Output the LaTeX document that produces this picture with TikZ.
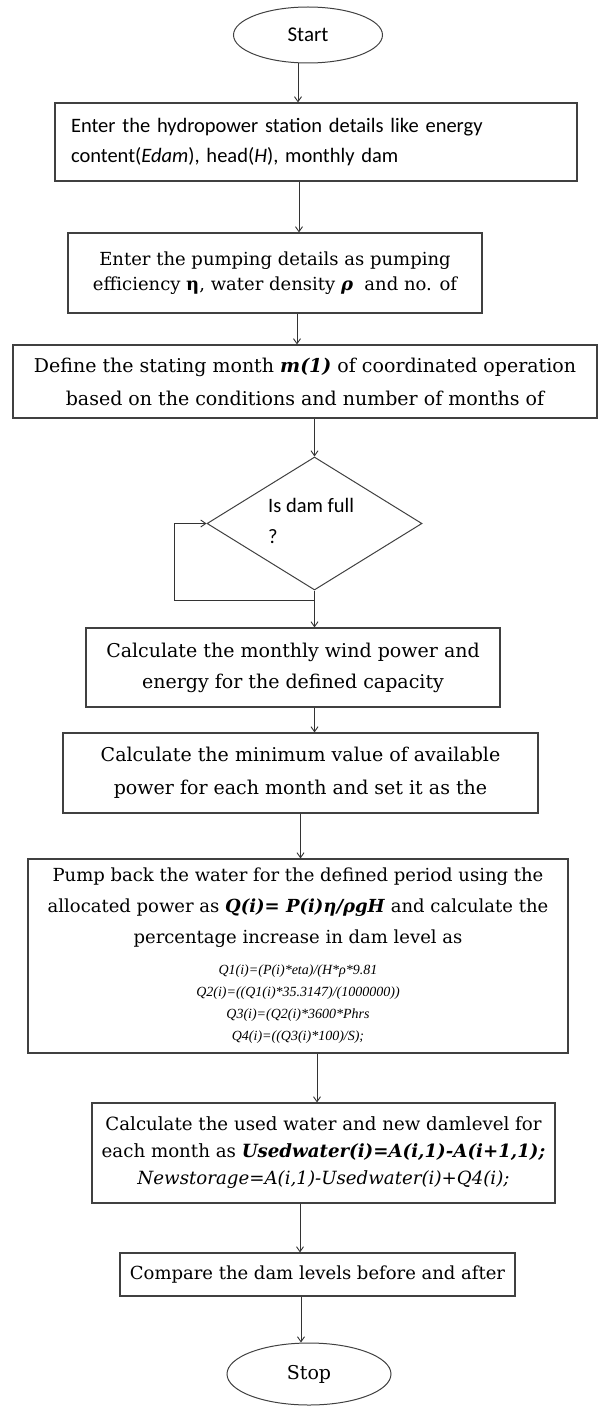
\documentclass[tikz,border=0pt]{standalone}
\usepackage{fontspec}
\setmainfont{DejaVu Serif}
\newfontfamily\sansfnt{Carlito}
\newfontfamily\formfnt{Liberation Serif}
\usetikzlibrary{shapes.geometric,arrows.meta}

\begin{document}
\begin{tikzpicture}[
    x=1pt, y=-1pt,
    box/.style={rectangle, draw=black!75, line width=1.1pt, inner sep=2pt, align=center, font=\fontsize{19}{32}\selectfont},
    term/.style={ellipse, draw=black!75, line width=1pt, inner sep=0pt},
    arrow/.style={-{Straight Barb[length=5pt,width=7pt]}, draw=black!80, line width=0.9pt}
]
\useasboundingbox (0,0) rectangle (599,1407);

% Start and input of station data
\node[term, minimum width=149pt, minimum height=56pt, font=\sansfnt\fontsize{21}{25}\selectfont] (start) at (308,35) {Start};
\node[box, minimum width=522pt, minimum height=78pt, text width=490pt, align=left,
      font=\sansfnt\fontsize{20.5}{30}\selectfont] (hydro) at (316,142)
    {Enter the hydropower station details like energy\\content(\textit{Edam}), head(\textit{H}), monthly dam};
\node[box, minimum width=414pt, minimum height=80pt, font=\fontsize{18}{25}\selectfont] (pump) at (275,273)
    {Enter the pumping details as pumping\\efficiency \textbf{η}, water density \textbf{\textit{ρ}}\ \ and no. of};
\node[box, minimum width=584pt, minimum height=73pt, font=\fontsize{19}{33}\selectfont] (month) at (305,381.5)
    {Define the stating month \textbf{\textit{m(1)}} of coordinated operation\\based on the conditions and number of months of};

% Decision: dam full?
\node[diamond, draw=black!75, line width=1pt, minimum width=215pt, minimum height=133pt, inner sep=0pt] (dam) at (314.5,523.5) {};
\node[font=\sansfnt\fontsize{20.5}{31}\selectfont, align=left, anchor=west, inner sep=0pt] (damtext) at (268,521) {Is dam full\\?};

% Wind power and pumping
\node[box, minimum width=414pt, minimum height=79pt, font=\fontsize{19}{31}\selectfont] (wind) at (293,667.5)
    {Calculate the monthly wind power and\\energy for the defined capacity};
\node[box, minimum width=475pt, minimum height=80pt, font=\fontsize{19}{33}\selectfont] (minpow) at (300.5,773)
    {Calculate the minimum value of available\\power for each month and set it as the};
\node[box, minimum width=540pt, minimum height=194pt, font=\fontsize{18}{31}\selectfont] (pumpback) at (298,956)
    {Pump back the water for the defined period using the\\
     allocated power as \textbf{\textit{Q(i)= P(i)η/ρgH}} and calculate the\\
     percentage increase in dam level as\\
     {\formfnt\itshape\fontsize{14}{22}\selectfont Q1(i)=(P(i)*eta)/(H*ρ*9.81}\\[-9pt]
     {\formfnt\itshape\fontsize{14}{22}\selectfont Q2(i)=((Q1(i)*35.3147)/(1000000))}\\[-9pt]
     {\formfnt\itshape\fontsize{14}{22}\selectfont Q3(i)=(Q2(i)*3600*Phrs}\\[-9pt]
     {\formfnt\itshape\fontsize{14}{22}\selectfont Q4(i)=((Q3(i)*100)/S);}};

% Dam level update and output
\node[box, minimum width=463pt, minimum height=100pt, font=\fontsize{18.2}{27}\selectfont] (newlvl) at (323.5,1153)
    {Calculate the used water and new damlevel for\\
     each month as \textbf{\textit{Usedwater(i)=A(i,1)-A(i+1,1);}}\\
     \textit{Newstorage=A(i,1)-Usedwater(i)+Q4(i);}};
\node[box, minimum width=395pt, minimum height=43pt, font=\fontsize{18}{27}\selectfont] (compare) at (317.5,1274.5)
    {Compare the dam levels before and after};
\node[term, minimum width=164pt, minimum height=62pt, font=\fontsize{19}{25}\selectfont] (stop) at (309,1374) {Stop};

% Connections
\draw[arrow] ([xshift=-10pt]start.south) -- ([xshift=-10pt]start.south |- hydro.north);
\draw[arrow] ([xshift=-17pt]hydro.south) -- ([xshift=-17pt]hydro.south |- pump.north);
\draw[arrow] ([xshift=22pt]pump.south) -- ([xshift=22pt]pump.south |- month.north);
\draw[arrow] (month.south -| dam.north) -- (dam.north);
\draw[arrow] (dam.south) -- (dam.south |- wind.north);
\draw[arrow] ([yshift=-10pt]dam.south) -| ([xshift=-32pt]dam.west) -- (dam.west);
\draw[arrow] (wind.south -| dam.south) -- (minpow.north -| dam.south);
\draw[arrow] (minpow.south) -- (minpow.south |- pumpback.north);
\draw[arrow] ([xshift=19pt]pumpback.south) -- ([xshift=19pt]pumpback.south |- newlvl.north);
\draw[arrow] ([xshift=-23.5pt]newlvl.south) -- ([xshift=-23.5pt]newlvl.south |- compare.north);
\draw[arrow] ([xshift=-8pt]stop.north |- compare.south) -- ([xshift=-8pt]stop.north);

\end{tikzpicture}
\end{document}
